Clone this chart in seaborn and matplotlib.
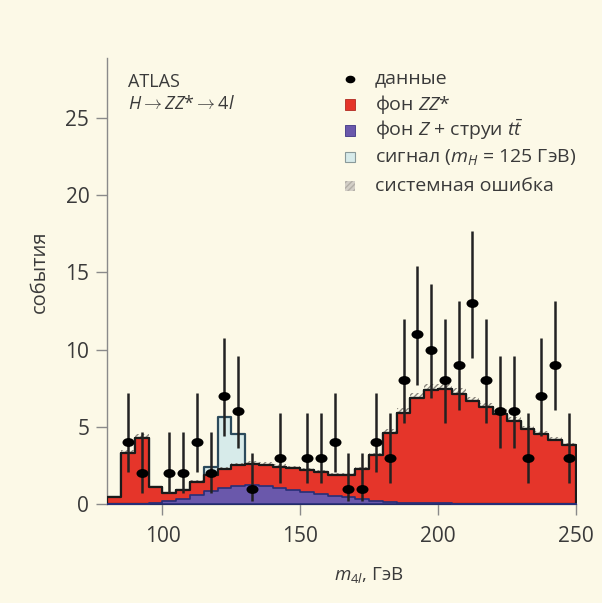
import numpy as np
import pandas as pd
import matplotlib
matplotlib.use("Agg")
import matplotlib.pyplot as plt
from matplotlib.lines import Line2D
from matplotlib.patches import Rectangle
from matplotlib.path import Path
import seaborn as sns

# ---- data: 5 GeV bins from 80 to 250 GeV ----
bin_lo = list(range(80, 250, 5))
zjets = [0.0, 0.0, 0.03, 0.06, 0.20, 0.35, 0.58, 0.84, 1.05, 1.18,
         1.22, 1.15, 1.05, 0.92, 0.80, 0.66, 0.53, 0.42, 0.30, 0.20,
         0.13, 0.09, 0.07, 0.05, 0.04, 0.03, 0.03, 0.02, 0.02, 0.02,
         0.02, 0.01, 0.01, 0.01]
zz = [0.45, 3.30, 4.22, 1.04, 0.52, 0.55, 0.87, 1.01, 1.20, 1.32,
      1.38, 1.40, 1.37, 1.38, 1.40, 1.39, 1.35, 1.48, 1.95, 2.95,
      4.47, 5.81, 6.78, 7.35, 7.41, 7.12, 6.62, 6.23, 5.83, 5.33,
      4.83, 4.49, 4.14, 3.79]
signal = [0, 0, 0, 0, 0, 0, 0, 0.55, 3.35, 2.00,
          0, 0, 0, 0, 0, 0, 0, 0, 0, 0,
          0, 0, 0, 0, 0, 0, 0, 0, 0, 0,
          0, 0, 0, 0]
syst = [0.03, 0.20, 0.25, 0.08, 0.05, 0.06, 0.10, 0.12, 0.14, 0.15,
        0.16, 0.16, 0.15, 0.14, 0.14, 0.13, 0.12, 0.12, 0.14, 0.18,
        0.25, 0.30, 0.32, 0.34, 0.34, 0.33, 0.30, 0.28, 0.27, 0.25,
        0.23, 0.21, 0.20, 0.18]
counts = [np.nan, 4, 2, np.nan, 2, 2, 4, 2, 7, 6,
          1, np.nan, 3, np.nan, 3, 3, 4, 1, 1, 4,
          3, 8, 11, 10, 8, 9, 13, 8, 6, 6,
          3, 7, 9, 3]
# 68% Poisson intervals for the observed counts
poisson_band = {1: (0.17, 3.30), 2: (0.71, 4.64), 3: (1.37, 5.92),
                4: (2.09, 7.16), 6: (3.62, 9.58), 7: (4.42, 10.77),
                8: (5.23, 11.95), 9: (6.06, 13.11), 10: (6.89, 14.27),
                11: (7.73, 15.42), 13: (9.44, 17.70)}

legend_labels = ["данные", "фон $ZZ$*", "фон $Z$ + струи $t\\bar{t}$",
                 "сигнал ($m_H$ = 125 ГэВ)", "системная ошибка"]

edges = [float(e) for e in bin_lo + [250]]
edges_arr = np.array(edges)
centers = edges_arr[:-1] + 2.5
zjets = np.array(zjets)
zz = np.array(zz)
signal = np.array(signal)
syst = np.array(syst)
bkg = zjets + zz
tot = bkg + signal

df = pd.DataFrame({"m": centers, "zjets": zjets, "bkg": bkg, "tot": tot})

# ---- style ----
BG = "#fcf9e7"
RED = "#e5352a"
PURPLE = "#6a58ab"
SIGFILL = "#d7ebea"
TXT = "#3a3a3a"
SPINE = "#8a8a8a"
HATCH = "#8c8880"

sns.set_theme(style="ticks")
plt.rcParams["font.family"] = ["Open Sans", "DejaVu Sans"]
plt.rcParams["mathtext.fontset"] = "custom"
plt.rcParams["mathtext.rm"] = "Open Sans"
plt.rcParams["mathtext.it"] = "Open Sans:italic"
plt.rcParams["hatch.linewidth"] = 1.0

W, H = 602, 603
fig = plt.figure(figsize=(W / 100, H / 100), dpi=100, facecolor=BG)
ax = fig.add_axes([0.1784, 0.1642, 0.778, 0.7403])
ax.set_facecolor(BG)

# signal on top of the total background
sns.histplot(data=df, x="m", weights="tot", bins=edges, element="step",
             fill=True, color=SIGFILL, edgecolor="#2c4b5c", linewidth=1.6,
             alpha=1, ax=ax, zorder=1)

# systematic uncertainty band on the background
ext = np.append(bkg, bkg[-1])
ext_s = np.append(syst, syst[-1])
ax.fill_between(edges_arr, ext - ext_s, ext + ext_s, step="post",
                facecolor="none", edgecolor=HATCH, hatch="//////",
                linewidth=0, zorder=2)

# ZZ* background (stacked on Z+jets, ttbar)
sns.histplot(data=df, x="m", weights="bkg", bins=edges, element="step",
             fill=True, color=RED, edgecolor="#1a1a1a", linewidth=1.6,
             alpha=1, ax=ax, zorder=3)

# Z+jets, ttbar background
sns.histplot(data=df, x="m", weights="zjets", bins=edges, element="step",
             fill=True, color=PURPLE, edgecolor="#262f78", linewidth=1.2,
             alpha=1, ax=ax, zorder=4)

# data with Poisson error bars
cnt = np.array(counts, dtype=float)
mask = ~np.isnan(cnt)
lo = np.array([poisson_band[int(c)][0] for c in cnt[mask]])
hi = np.array([poisson_band[int(c)][1] for c in cnt[mask]])
ax.vlines(centers[mask], lo, hi, color="#222222", linewidth=1.8, zorder=6)

circ = Path.unit_circle()
ellipse = Path(circ.vertices * np.array([1.35, 1.0]), circ.codes)
sns.scatterplot(x=centers[mask], y=cnt[mask], marker=ellipse, s=75,
                color="black", edgecolor="black", linewidth=0, ax=ax,
                zorder=7)

# ---- axes ----
ax.set_xlim(80, 250)
ax.set_ylim(0, 28.9)
ax.set_xticks([100, 150, 200, 250])
ax.set_yticks([0, 5, 10, 15, 20, 25])
ax.tick_params(axis="both", labelsize=15, labelcolor=TXT, color=SPINE,
               length=8, width=1.0, direction="out")
ax.tick_params(axis="x", pad=8)
ax.tick_params(axis="y", pad=5)
for side in ("top", "right"):
    ax.spines[side].set_visible(False)
for side in ("left", "bottom"):
    ax.spines[side].set_color(SPINE)
    ax.spines[side].set_linewidth(1.0)
ax.set_xlabel("")
ax.set_ylabel("")


def fx(px):
    return px / W


def fy(py):
    return 1 - py / H


fig.text(fx(40), fy(272), "события", rotation=90, ha="center",
         va="center", fontsize=14.5, color=TXT)
fig.text(fx(369), fy(575), "$m_{4l}$, ГэВ", ha="center", va="center",
         fontsize=13.5, color=TXT)

fig.text(fx(128), fy(87), "ATLAS", fontsize=13, color=TXT, ha="left",
         va="baseline")
fig.text(fx(128), fy(109), r"$H\rightarrow ZZ$*$\rightarrow 4l$",
         fontsize=13, color=TXT, ha="left", va="baseline")

# ---- legend, drawn entry by entry ----
text_x = 375
sym_x = 350
sq = 10
baselines = [83.5, 109.5, 135.5, 162, 191.5]

fig.add_artist(Line2D([fx(sym_x)], [fy(78.5)], linestyle="none",
                      marker=ellipse, markersize=6, color="black",
                      transform=fig.transFigure))
sq_styles = [
    dict(facecolor=RED, edgecolor="#b02a20", linewidth=0.6),
    dict(facecolor=PURPLE, edgecolor="#3d3585", linewidth=0.6),
    dict(facecolor=SIGFILL, edgecolor="#8a9a9a", linewidth=0.8),
    dict(facecolor="#d3cfc7", edgecolor="#b3afa7", hatch="//////",
         linewidth=0),
]
for base, st in zip(baselines[1:], sq_styles):
    fig.add_artist(Rectangle((fx(sym_x - sq / 2), fy(base)), sq / W, sq / H,
                             transform=fig.transFigure, **st))
for base, lab in zip(baselines, legend_labels):
    fig.text(fx(text_x), fy(base), lab, fontsize=14, color=TXT,
             ha="left", va="baseline")

fig.savefig("out.png", dpi=100, facecolor=BG)
